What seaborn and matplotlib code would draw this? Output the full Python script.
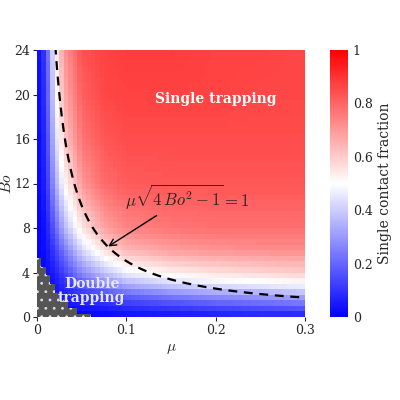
import numpy as np
import matplotlib
matplotlib.use("Agg")
import matplotlib.pyplot as plt
import seaborn as sns

mu_vals = [0, 0.01, 0.02, 0.03, 0.05, 0.075, 0.1, 0.15, 0.2, 0.25, 0.3]
bo_vals = [0, 1, 2, 3, 4, 6, 8, 12, 16, 20, 24]
frac = [
    [0, 0, 0, 0, 0, 0.01, 0.02, 0.03, 0.04, 0.05, 0.05],
    [0, 0, 0.02, 0.03, 0.05, 0.07, 0.10, 0.13, 0.16, 0.18, 0.20],
    [0, 0.01, 0.03, 0.06, 0.10, 0.15, 0.20, 0.26, 0.30, 0.32, 0.35],
    [0, 0.02, 0.04, 0.09, 0.18, 0.27, 0.35, 0.42, 0.46, 0.48, 0.50],
    [0, 0.02, 0.06, 0.13, 0.27, 0.38, 0.47, 0.53, 0.56, 0.58, 0.60],
    [0, 0.03, 0.12, 0.23, 0.42, 0.56, 0.64, 0.69, 0.71, 0.72, 0.72],
    [0, 0.04, 0.19, 0.35, 0.55, 0.68, 0.74, 0.77, 0.78, 0.78, 0.78],
    [0, 0.07, 0.32, 0.50, 0.70, 0.79, 0.82, 0.83, 0.83, 0.83, 0.83],
    [0, 0.09, 0.40, 0.60, 0.77, 0.83, 0.85, 0.85, 0.85, 0.85, 0.85],
    [0, 0.11, 0.46, 0.66, 0.81, 0.86, 0.87, 0.87, 0.87, 0.86, 0.86],
    [0, 0.13, 0.50, 0.70, 0.84, 0.87, 0.88, 0.88, 0.87, 0.87, 0.86],
]
grey_mu = [0, 0, 0.005, 0.005, 0.01, 0.01, 0.015, 0.015, 0.02, 0.02, 0.025, 0.025, 0.035, 0.035, 0.045, 0.045, 0.06, 0.06]
grey_bo = [0, 5.3, 5.3, 4.5, 4.5, 3.8, 3.8, 3.0, 3.0, 2.2, 2.2, 1.5, 1.5, 0.8, 0.8, 0.3, 0.3, 0]

sns.set_style("ticks")
plt.rcParams["font.family"] = ["DejaVu Serif"]
plt.rcParams["mathtext.fontset"] = "cm"
plt.rcParams["hatch.linewidth"] = 0.8

mu_e = np.arange(0, 0.3001, 0.005)
bo_e = np.arange(0, 24.001, 0.5)
mu_c = (mu_e[:-1] + mu_e[1:]) / 2
bo_c = (bo_e[:-1] + bo_e[1:]) / 2
F = np.array(frac)
tmp = np.array([np.interp(mu_c, mu_vals, row) for row in F])
Z = np.array([np.interp(bo_c, bo_vals, tmp[:, j]) for j in range(len(mu_c))]).T

fig = plt.figure(figsize=(4, 4), dpi=100)
ax = fig.add_axes([0.0925, 0.2075, 0.67, 0.6675])
cax = fig.add_axes([0.825, 0.2075, 0.045, 0.6675])
cmap = sns.color_palette("bwr", as_cmap=True)
pc = ax.pcolormesh(mu_e, bo_e, Z, cmap=cmap, vmin=0, vmax=1, shading="flat")
ax.fill(grey_mu, grey_bo, facecolor="#555555", edgecolor="#dddddd", hatch="..", linewidth=0)

mc = np.linspace(0.0205, 0.3, 300)
ax.plot(mc, np.sqrt(1 / mc**2 + 1) / 2, "k--", lw=1.6, dashes=(4, 3))

ax.set_xlim(0, 0.3); ax.set_ylim(0, 24)
ax.set_xticks([0, 0.1, 0.2, 0.3]); ax.set_xticklabels(["0", "0.1", "0.2", "0.3"])
ax.set_yticks(range(0, 25, 4))
ax.set_xlabel(r"$\mu$", fontsize=11)
ax.set_ylabel(r"$Bo$", fontsize=11, labelpad=0)
ax.tick_params(labelsize=9, length=3, pad=2)
for s in ax.spines.values():
    s.set_visible(False)

ax.text(0.2, 19.6, "Single trapping", color="white", fontsize=10, ha="center", va="center", fontweight="bold")
ax.text(0.061, 2.3, "Double\ntrapping", color="#e6e6ff", fontsize=10, ha="center", va="center", fontweight="bold", linespacing=1.0)
ax.annotate(r"$\mu\sqrt{4\,Bo^2-1}=1$", xy=(0.077, 6.2), xytext=(0.098, 10.0),
            fontsize=12, arrowprops=dict(arrowstyle="->", color="k", lw=1))

cb = fig.colorbar(pc, cax=cax)
cb.set_ticks([0, 0.2, 0.4, 0.6, 0.8, 1]); cb.set_ticklabels(["0", "0.2", "0.4", "0.6", "0.8", "1"])
cb.outline.set_visible(False)
cb.ax.tick_params(labelsize=9, length=0)
cb.set_label("Single contact fraction", fontsize=10)
fig.savefig("out.png", dpi=100)
